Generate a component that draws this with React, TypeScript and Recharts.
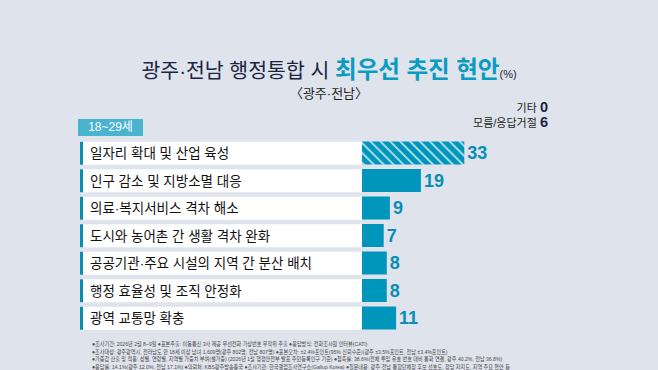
import React from 'react';
import { BarChart, Bar, XAxis, YAxis, LabelList } from 'recharts';

const categories = [
  '일자리 확대 및 산업 육성',
  '인구 감소 및 지방소멸 대응',
  '의료·복지서비스 격차 해소',
  '도시와 농어촌 간 생활 격차 완화',
  '공공기관·주요 시설의 지역 간 분산 배치',
  '행정 효율성 및 조직 안정화',
  '광역 교통망 확충',
];
const values = [33, 19, 9, 7, 8, 8, 11];

const otherLabels = ['기타', '모름/응답거절'];
const otherValues = [0, 6];

const footnotes = [
  '●조사기간: 2026년 2월 8~9일 ●표본추출: 이동통신 3사 제공 무선전화 가상번호 무작위 추출 ●응답방식: 전화조사원 인터뷰(CATI)',
  '●조사대상: 광주광역시, 전라남도 만 18세 이상 남녀 1,609명(광주 802명, 전남 807명) ●표본오차: ±2.4%포인트(95% 신뢰수준)(광주 ±3.5%포인트, 전남 ±3.4%포인트)',
  '●가중값 산출 및 적용: 성별, 연령별, 지역별 가중치 부여(셀가중) (2026년 1월 행정안전부 발표 주민등록인구 기준) ●접촉률: 38.6%(전체 투입 유효 번호 대비 통화 연결, 광주 40.2%, 전남 36.8%)',
  '●응답률: 14.1%(광주 12.0%, 전남 17.1%) ●의뢰처: KBS광주방송총국 ●조사기관: 한국갤럽조사연구소(Gallup Korea) ●질문내용: 광주·전남 통합단체장 후보 선호도, 정당 지지도, 지역 주요 현안 등',
];

const data = categories.map((name, i) => ({ name, value: values[i] }));

const FONT = '"Liberation Sans", "Noto Sans CJK KR", sans-serif';
const NUM_FONT = '"Liberation Sans Narrow", "Liberation Sans", Arial, sans-serif';
const BG = '#dfe3ec';
const TEAL = '#0096bc';
const ROW_LEFT = 80;
const PLOT_LEFT = 362;
const BAR_H = 23;

const RowTick = (props: any) => {
  const { y, payload } = props;
  return (
    <g>
      <rect x={ROW_LEFT} y={y - BAR_H / 2} width={PLOT_LEFT - ROW_LEFT} height={BAR_H} fill="#ffffff" />
      <rect x={ROW_LEFT} y={y - BAR_H / 2} width={3} height={BAR_H} fill="#0a8db3" />
      <text x={ROW_LEFT + 10} y={y + 0.5} dominantBaseline="central" fontFamily={FONT} fontSize={13.5} fill="#111">
        {payload.value}
      </text>
    </g>
  );
};

const BarShape = (props: any) => {
  const { x, y, width, height, index } = props;
  if (index === 0) {
    return (
      <g>
        <defs>
          <pattern id="hatch" width="7" height="7" patternUnits="userSpaceOnUse" patternTransform="rotate(-45)">
            <rect width="7" height="7" fill={TEAL} />
            <rect x="0" y="0" width="1.8" height="7" fill="#b5e1ee" />
          </pattern>
        </defs>
        <rect x={x} y={y} width={width} height={height} fill="url(#hatch)" />
      </g>
    );
  }
  return <rect x={x} y={y} width={width} height={height} fill={TEAL} />;
};

export default function App() {
  return (
    <div style={{ position: 'absolute', left: 0, top: 0, width: 658, height: 370, background: BG, overflow: 'hidden', fontFamily: FONT }}>
      {/* 제목 */}
      <div style={{ position: 'absolute', left: 0, top: 55, width: 658, textAlign: 'center', whiteSpace: 'nowrap', lineHeight: '30px' }}>
        <span style={{ fontSize: 20.5, color: '#1b2440', fontWeight: 400 }}>광주·전남 행정통합 시 </span>
        <span style={{ fontSize: 23.5, color: '#0a9bc2', fontWeight: 700 }}>최우선 추진 현안</span>
        <span style={{ fontSize: 11, color: '#1b2440' }}>(%)</span>
      </div>
      <div style={{ position: 'absolute', left: 0, top: 86, width: 658, textAlign: 'center', fontSize: 13, color: '#222', lineHeight: '16px' }}>
        〈광주·전남〉
      </div>

      {/* 기타 / 모름 */}
      {otherLabels.map((lab, i) => (
        <div key={lab} style={{ position: 'absolute', right: 110, top: 100 + i * 15, whiteSpace: 'nowrap', lineHeight: '14px', height: 14 }}>
          <span style={{ fontSize: 11, color: '#222' }}>{lab} </span>
          <span style={{ fontSize: 14.5, fontWeight: 700, color: '#1b2440', fontFamily: NUM_FONT }}>{otherValues[i]}</span>
        </div>
      ))}

      {/* 연령 태그 */}
      <div style={{ position: 'absolute', left: 78, top: 119, width: 65, height: 17, background: '#4ab3d0', color: '#fff', fontSize: 12, lineHeight: '17px', textAlign: 'center' }}>
        18~29세
      </div>

      <div style={{ position: 'absolute', left: 0, top: 0 }}>
        <BarChart
          width={658}
          height={370}
          data={data}
          layout="vertical"
          margin={{ top: 139.5, right: 48, bottom: 38, left: ROW_LEFT }}
          barSize={BAR_H}
        >
          <XAxis type="number" domain={[0, 80]} hide />
          <YAxis
            type="category"
            dataKey="name"
            width={PLOT_LEFT - ROW_LEFT}
            axisLine={false}
            tickLine={false}
            tick={<RowTick />}
          />
          <Bar dataKey="value" shape={<BarShape />} isAnimationActive={false}>
            <LabelList
              dataKey="value"
              position="right"
              offset={3}
              fill="#0a8db5"
              fontSize={18}
              fontWeight={700}
              fontFamily={NUM_FONT}
            />
          </Bar>
        </BarChart>
      </div>

      {/* 조사 개요 */}
      <div style={{ position: 'absolute', left: 92, top: 341, fontSize: 6, lineHeight: '7.5px', color: '#4a4a4a', whiteSpace: 'nowrap', transform: 'scaleX(0.85)', transformOrigin: 'left top' }}>
        {footnotes.map((f) => (
          <div key={f}>{f}</div>
        ))}
      </div>
    </div>
  );
}
